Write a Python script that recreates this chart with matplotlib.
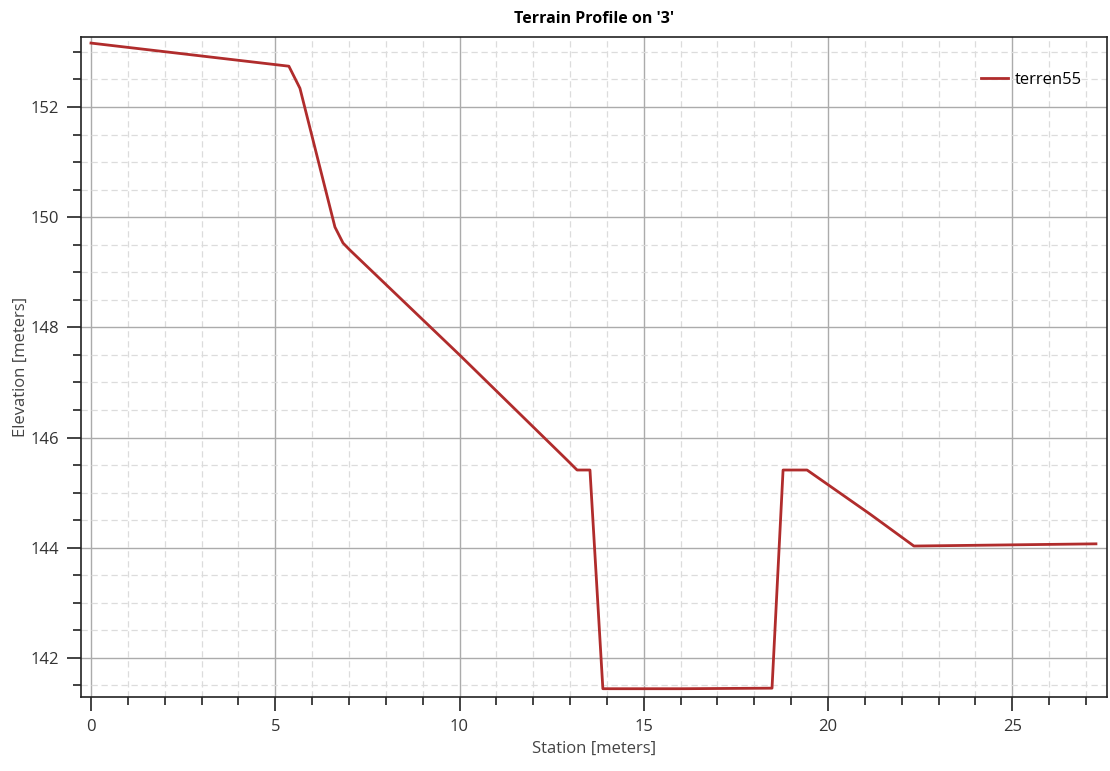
import matplotlib.pyplot as plt
from matplotlib.ticker import MultipleLocator

plt.rcParams['font.family'] = ['Open Sans', 'DejaVu Sans']

# station [m] / elevation [m]
station = [0.0, 5.37, 5.67, 6.62, 6.84, 7.03, 10.0, 12.92, 13.19, 13.54,
           13.89, 16.0, 18.48, 18.78, 19.43, 21.14, 22.33, 27.27]
elevation = [153.16, 152.74, 152.34, 149.82, 149.53, 149.40, 147.50, 145.59, 145.41, 145.41,
             141.44, 141.44, 141.45, 145.41, 145.41, 144.61, 144.03, 144.07]

series_name = 'terren55'
line_color = '#b02c2c'

fig = plt.figure(figsize=(11.1, 7.71), dpi=100)
ax = fig.add_axes([0.073, 0.096, 0.9243, 0.856])

ax.plot(station, elevation, color=line_color, lw=2.0, label=series_name,
        solid_joinstyle='round')

ax.set_xlim(-0.27, 27.57)
ax.set_ylim(141.29, 153.27)
ax.xaxis.set_major_locator(MultipleLocator(5))
ax.xaxis.set_minor_locator(MultipleLocator(1))
ax.yaxis.set_major_locator(MultipleLocator(2))
ax.yaxis.set_minor_locator(MultipleLocator(0.5))

ax.grid(which='major', color='#ababab', lw=1.0, ls='-')
ax.grid(which='minor', color='#dcdcdc', lw=0.9, ls=(0, (5, 3)))
ax.set_axisbelow(True)

ax.tick_params(which='major', direction='out', length=10, width=1.2,
               labelsize=12, colors='#222222', labelcolor='#333333', pad=6)
ax.tick_params(which='minor', direction='out', length=6, width=1.2, colors='#222222')
for sp in ax.spines.values():
    sp.set_color('#222222')
    sp.set_linewidth(1.2)

ax.set_xlabel('Station [meters]', fontsize=12, color='#444444', labelpad=4)
ax.set_ylabel('Elevation [meters]', fontsize=12, color='#444444', labelpad=1)
ax.set_title("Terrain Profile on '3'", fontsize=11.5, fontweight='bold', pad=10)

ax.legend(loc='upper right', frameon=False, fontsize=12, handlelength=1.6,
          handletextpad=0.4, bbox_to_anchor=(0.99, 0.97))

fig.savefig('out.png', dpi=100)
